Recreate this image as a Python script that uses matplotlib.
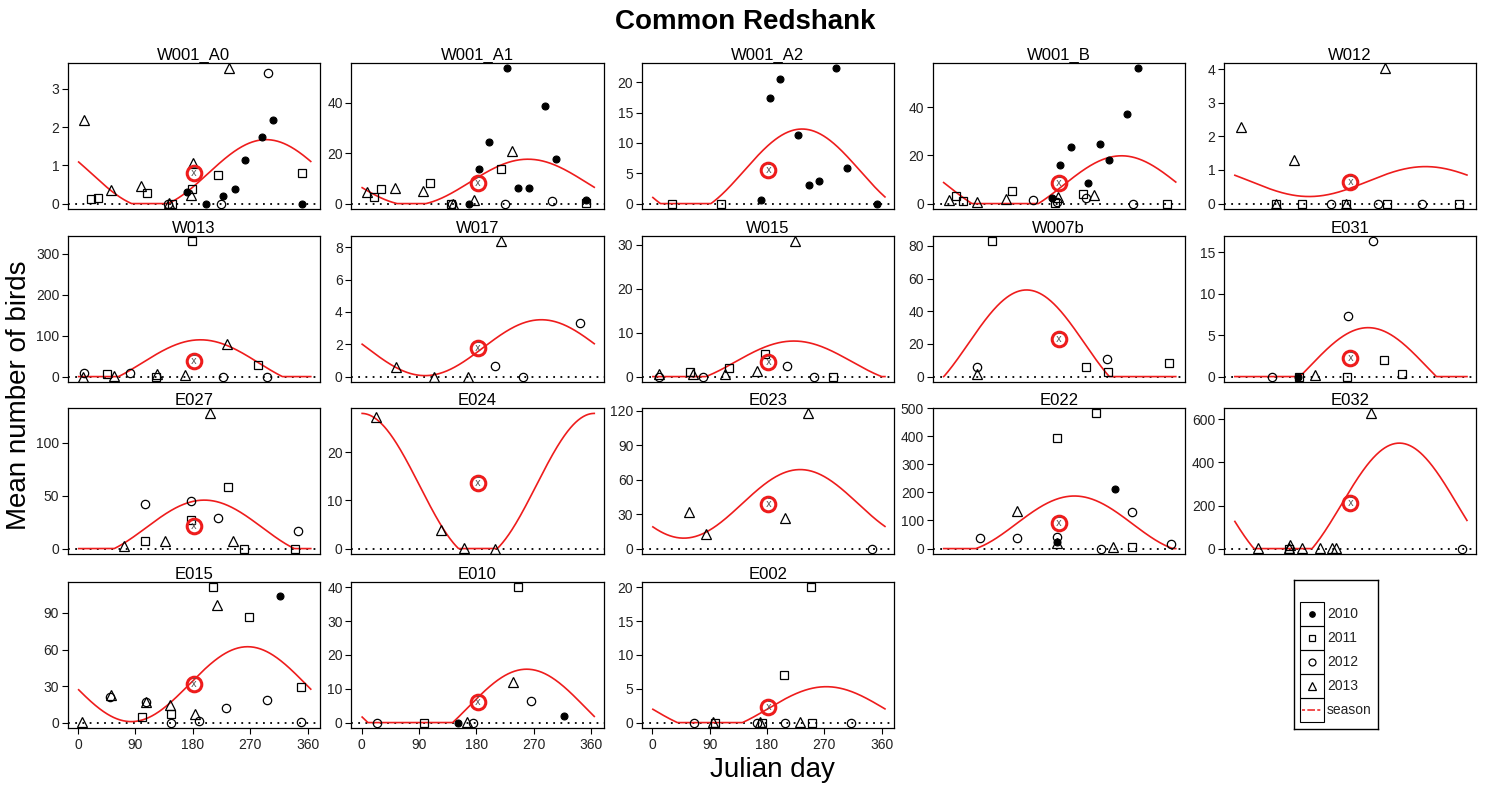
import numpy as np
import matplotlib
matplotlib.use("Agg")
from matplotlib import pyplot as plt
from matplotlib.patches import Rectangle

plt.rcParams["font.family"] = ["Liberation Sans", "DejaVu Sans"]

# survey means per site: year -> [(julian day, mean count)]
w001_a0 = {
    2010: [(171, 0.30), (201, 0), (228, 0.20), (246, 0.39), (262, 1.13), (288, 1.75), (306, 2.17), (352, 0)],
    2011: [(20, 0.13), (31, 0.15), (108, 0.28), (147, 0), (178, 0.37), (219, 0.74), (352, 0.81)],
    2012: [(141, 0), (225, 0), (298, 3.42)],
    2013: [(10, 2.18), (52, 0.36), (98, 0.47), (143, 0.02), (180, 1.05), (177, 0.22), (237, 3.53)],
}
w001_a1 = {
    2010: [(169, 0), (184, 13.7), (200, 24.4), (228, 53.6), (246, 6.2), (262, 6.2), (288, 38.7), (305, 17.7), (352, 1.6)],
    2011: [(19, 2.8), (31, 5.9), (107, 8.2), (141, 0), (219, 13.6), (352, 0.4)],
    2012: [(142, 0), (225, 0), (298, 0.9)],
    2013: [(8, 4.7), (53, 6.0), (97, 5.0), (144, 0), (176, 1.6), (236, 20.9)],
}
w001_a2 = {
    2010: [(170, 0.6), (185, 17.5), (200, 20.5), (228, 11.3), (246, 3.0), (262, 3.7), (289, 22.3), (305, 5.9), (352, 0)],
    2011: [(31, 0), (108, 0)],
    2012: [],
    2013: [],
}
w001_b = {
    2010: [(171, 2.4), (184, 15.8), (200, 23.6), (228, 8.7), (246, 24.5), (261, 18.2), (289, 37.3), (306, 56)],
    2011: [(20, 3.2), (32, 1.0), (108, 5.3), (176, 0.3), (219, 4.1), (352, 0)],
    2012: [(141, 1.5), (178, 0.8), (225, 2.2), (298, 0)],
    2013: [(10, 1.5), (53, 0.8), (98, 1.7), (181, 2.8), (237, 3.4)],
}
w012 = {
    2010: [],
    2011: [(66, 0), (107, 0), (175, 0), (239, 0), (352, 0)],
    2012: [(152, 0), (225, 0), (295, 0)],
    2013: [(11, 2.28), (66, 0), (94, 1.29), (175, 0), (236, 4.02)],
}
w013 = {
    2010: [],
    2011: [(46, 5.8), (123, 0), (178, 330), (282, 29)],
    2012: [(10, 9), (81, 8), (227, 0), (297, 0)],
    2013: [(8, 0), (57, 1.7), (124, 5.8), (168, 3), (233, 80)],
}
w017 = {
    2010: [],
    2011: [],
    2012: [(210, 0.67), (254, 0), (342, 3.33)],
    2013: [(54, 0.58), (113, 0), (167, 0), (218, 8.37)],
}
w015 = {
    2010: [],
    2011: [(59, 1.0), (121, 2.0), (177, 5.1), (283, 0)],
    2012: [(10, 0), (80, 0), (211, 2.3), (253, 0)],
    2013: [(10, 0.5), (64, 0.5), (114, 0.5), (165, 1.3), (224, 30.8)],
}
w007b = {
    2010: [],
    2011: [(77, 82.7), (225, 5.8), (258, 2.7), (354, 8.1)],
    2012: [(54, 5.6), (257, 10.6)],
    2013: [(54, 1.5)],
}
e031 = {
    2010: [(100, 0)],
    2011: [(102, 0), (177, 0), (235, 2.0), (263, 0.3)],
    2012: [(59, 0), (178, 7.3), (218, 16.3)],
    2013: [(126, 0.15)],
}
e027 = {
    2010: [],
    2011: [(105, 7.3), (177, 27), (235, 58), (260, 0), (340, 0)],
    2012: [(105, 42.4), (177, 45), (219, 28.7), (345, 16.6)],
    2013: [(72, 2.5), (137, 7), (207, 128), (243, 7.3)],
}
e024 = {
    2010: [],
    2011: [],
    2012: [],
    2013: [(22, 27.3), (125, 3.8), (161, 0.2), (210, 0)],
}
e023 = {
    2010: [],
    2011: [],
    2012: [(344, 0)],
    2013: [(57, 31.6), (85, 12.6), (209, 26.6), (244, 117.7)],
}
e022 = {
    2010: [(269, 211), (178, 25)],
    2011: [(178, 394), (240, 481), (297, 7)],
    2012: [(58, 38.6), (116, 37.4), (178, 39.8), (248, 0), (296, 130), (358, 15.7)],
    2013: [(116, 134), (178, 20.5), (267, 5)],
}
e032 = {
    2010: [],
    2011: [(86, 0)],
    2012: [(358, 0)],
    2013: [(37, 5), (86, 5), (88, 15), (107, 5), (135, 5), (153, 5), (160, 5), (215, 628)],
}
e015 = {
    2010: [(316, 104)],
    2011: [(101, 4.5), (146, 7.3), (211, 111), (268, 87), (350, 29.6)],
    2012: [(50, 21), (107, 16.8), (146, 0), (189, 1.4), (232, 12.3), (297, 18.7), (350, 0.8)],
    2013: [(7, 0.8), (52, 23), (107, 17.3), (144, 14.5), (183, 6.7), (218, 96.4)],
}
e010 = {
    2010: [(151, 0), (317, 2)],
    2011: [(98, 0), (245, 40)],
    2012: [(25, 0), (175, 0), (266, 6.5)],
    2013: [(165, 0.3), (238, 12)],
}
e002 = {
    2010: [],
    2011: [(98, 0), (172, 0), (207, 7), (249, 20), (251, 0)],
    2012: [(66, 0), (164, 0), (209, 0), (312, 0)],
    2013: [(96, 0.15), (169, 0.15), (231, 0.15)],
}

sites = ["W001_A0", "W001_A1", "W001_A2", "W001_B", "W012",
         "W013", "W017", "W015", "W007b", "E031",
         "E027", "E024", "E023", "E022", "E032",
         "E015", "E010", "E002"]
site_data = [w001_a0, w001_a1, w001_a2, w001_b, w012,
             w013, w017, w015, w007b, e031,
             e027, e024, e023, e022, e032,
             e015, e010, e002]

# overall mean (x-bar) and fitted seasonal curve (midline, amplitude, peak day)
xbar = [0.80, 8.3, 5.5, 8.6, 0.64,
        37.4, 1.79, 3.3, 23, 2.2,
        21.3, 13.5, 38.7, 91.7, 212.5,
        31.6, 6.1, 2.3]
season_mid = [0.783, 8.46, 5.38, 7.62, 0.655,
              33.6, 1.79, 3.39, 20.2, 1.25,
              19.8, 13.0, 38.95, 87.9, 203,
              31.55, 4.63, 2.07]
season_amp = [0.887, 9.14, 6.92, 12.18, 0.445,
              56.2, 1.73, 4.71, 32.8, 4.65,
              26.1, 15.0, 29.85, 99.2, 287,
              30.75, 11.17, 3.24]
season_peak_day = [295, 261, 235, 280, 300,
                   192, 282, 222, 131, 210,
                   198, 0, 232, 206, 259,
                   266, 259, 273]

y_ticks = [[0, 1, 2, 3], [0, 20, 40], [0, 5, 10, 15, 20], [0, 20, 40], [0, 1, 2, 3, 4],
           [0, 100, 200, 300], [0, 2, 4, 6, 8], [0, 10, 20, 30], [0, 20, 40, 60, 80], [0, 5, 10, 15],
           [0, 50, 100], [0, 10, 20], [0, 30, 60, 90, 120], [0, 100, 200, 300, 400, 500], [0, 200, 400, 600],
           [0, 30, 60, 90], [0, 10, 20, 30, 40], [0, 5, 10, 15, 20]]
x_ticks = [0, 90, 180, 270, 360]

years = [2010, 2011, 2012, 2013]
year_style = {
    2010: dict(marker="o", ms=5, mfc="black", mec="black", mew=0.8),
    2011: dict(marker="s", ms=6, mfc="none", mec="black", mew=0.9),
    2012: dict(marker="o", ms=6, mfc="none", mec="black", mew=0.9),
    2013: dict(marker="^", ms=7, mfc="none", mec="black", mew=0.9),
}

W, H = 1491, 787
fig = plt.figure(figsize=(W / 100, H / 100), dpi=100)

col_left = [67.5, 351, 641.7, 932.5, 1223.7]
row_top = [63, 236, 408, 582]
ax_w, ax_h = 252.5, 146

days = np.arange(1, 366)

for i, name in enumerate(sites):
    r, c = divmod(i, 5)
    ax = fig.add_axes([col_left[c] / W, 1 - (row_top[r] + ax_h) / H, ax_w / W, ax_h / H])
    data = site_data[i]
    top = 0
    for yr in years:
        pts = data[yr]
        if not pts:
            continue
        d = [p[0] for p in pts]
        v = [p[1] for p in pts]
        top = max(top, max(v))
        ax.plot(d, v, linestyle="none", zorder=3, **year_style[yr])
    curve = np.clip(season_mid[i] + season_amp[i] *
                    np.cos(2 * np.pi * (days - season_peak_day[i]) / 365), 0, None)
    top = max(top, curve.max())
    ax.plot(days, curve, color="#ee1c1c", lw=1.2, zorder=2)
    ax.axhline(0, color="black", lw=1.3, linestyle=(0, (1, 3)), zorder=1)
    ax.plot(182, xbar[i], marker="o", ms=10.5, mfc="none", mec="#ee1c1c", mew=2.2, zorder=4)
    ax.text(182, xbar[i], r"$\bar{\mathrm{x}}$", fontsize=7, color="#555555",
            ha="center", va="center", zorder=5)
    ax.set_xlim(-16.5, 379.5)
    ax.set_ylim(-0.04 * top, 1.04 * top)
    ax.set_yticks(y_ticks[i])
    ax.tick_params(axis="y", direction="out", length=4, width=0.8, labelsize=10,
                   pad=2, labelcolor="#222222")
    if r == 3:
        ax.set_xticks(x_ticks)
        ax.tick_params(axis="x", direction="out", length=4, width=0.8, labelsize=10,
                       pad=3, labelcolor="#222222")
    else:
        ax.set_xticks([])
    for s in ax.spines.values():
        s.set_linewidth(0.9)
    ax.set_title(name, fontsize=12, pad=2)

fig.text(745 / W, 1 - 22 / H, "Common Redshank", fontsize=20, fontweight="bold",
         ha="center", va="center")
fig.text(19 / W, 1 - 395 / H, "Mean number of birds", fontsize=20, rotation=90,
         ha="center", va="center")
fig.text(772 / W, 1 - 770 / H, "Julian day", fontsize=20, ha="center", va="center")

# legend box with framed key cells
leg = fig.add_axes([1294 / W, 1 - 729 / H, 84 / W, 149 / H])
leg.set_xlim(0, 84)
leg.set_ylim(149, 0)
leg.set_xticks([])
leg.set_yticks([])
for s in leg.spines.values():
    s.set_linewidth(1.0)
leg_labels = ["2010", "2011", "2012", "2013", "season"]
for k, lab in enumerate(leg_labels):
    y0 = 22 + 24 * k
    leg.add_patch(Rectangle((6, y0), 24, 24, fill=False, lw=0.8, edgecolor="black"))
    yc = y0 + 12
    if k < 4:
        st = dict(year_style[years[k]])
        st["ms"] = st["ms"] - 1
        leg.plot(18, yc, linestyle="none", **st)
    else:
        leg.plot([8, 28], [yc, yc], color="#ee1c1c", lw=1.1, linestyle=(0, (2, 1.5, 5, 1.5)))
    leg.text(33, yc, lab, fontsize=10, va="center", ha="left", color="#222222")

fig.savefig("out.png", dpi=100)
